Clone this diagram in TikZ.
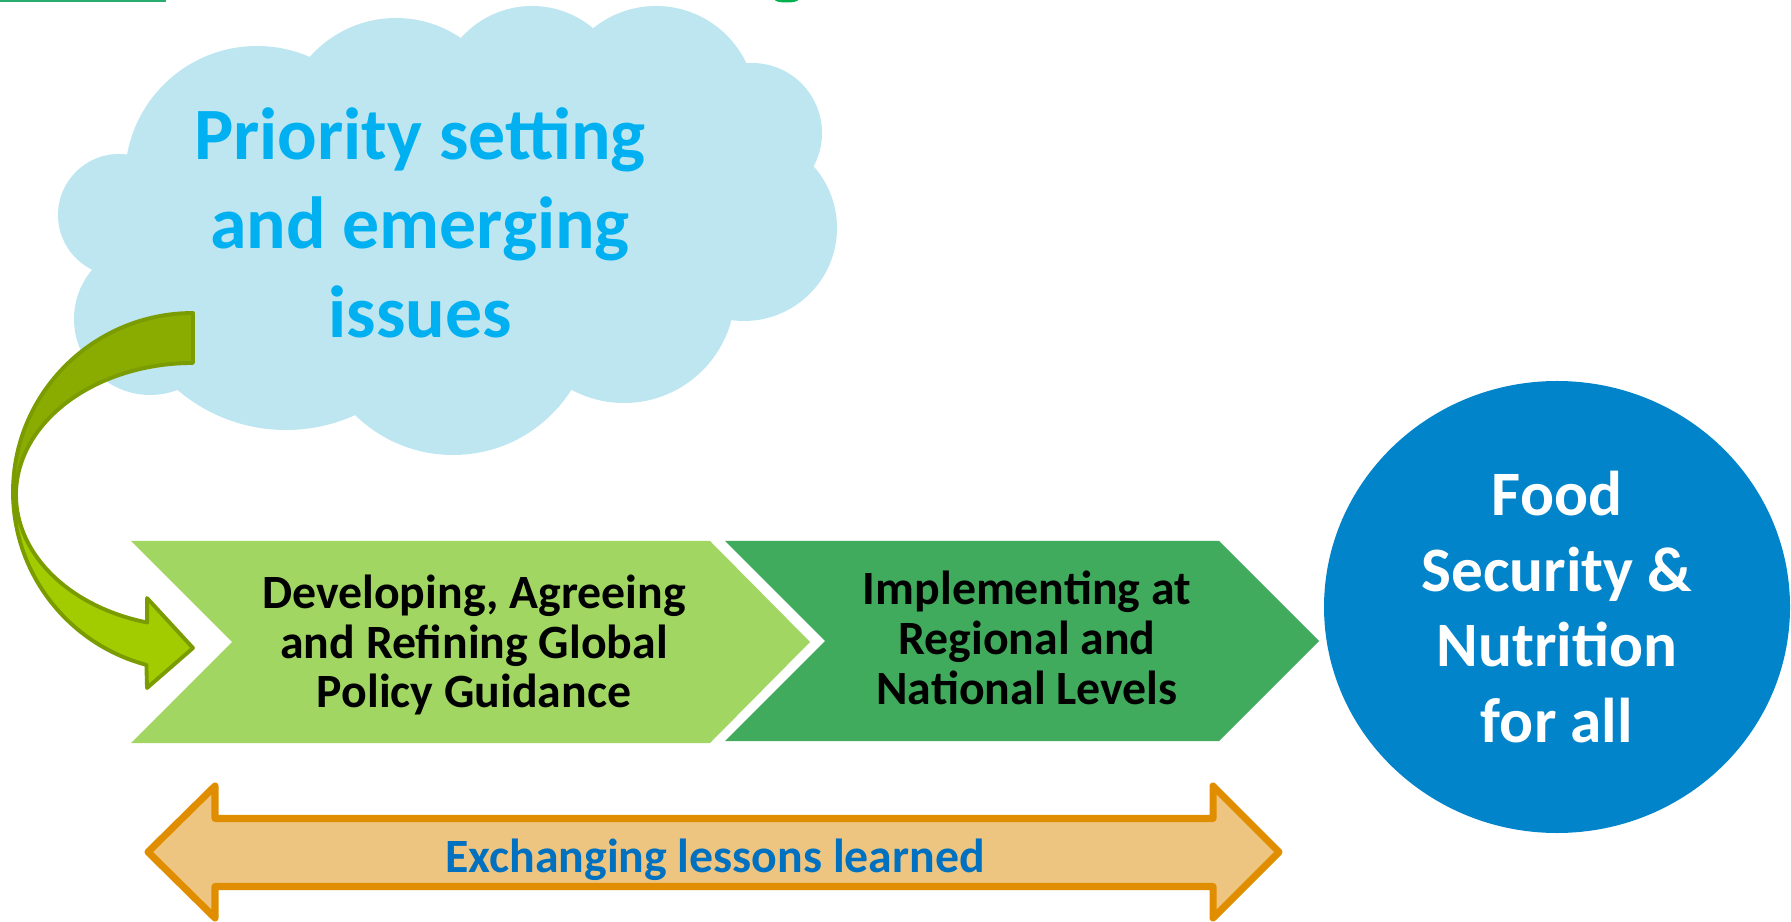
\documentclass[tikz,border=0pt]{standalone}
\usepackage{fontspec}
\setmainfont{Carlito}
\usepackage{tikz}
\usetikzlibrary{shapes.geometric}

\definecolor{cloudblue}{RGB}{189,230,241}
\definecolor{skyblue}{RGB}{0,176,240}
\definecolor{arrowdark}{RGB}{138,171,0}
\definecolor{arrowlight}{RGB}{162,204,0}
\definecolor{arrowline}{RGB}{122,156,0}
\definecolor{stepone}{RGB}{161,214,98}
\definecolor{steptwo}{RGB}{65,171,93}
\definecolor{goalblue}{RGB}{2,132,203}
\definecolor{swapfill}{RGB}{238,197,128}
\definecolor{swapline}{RGB}{224,142,0}
\definecolor{swaptext}{RGB}{0,112,192}
\definecolor{titlegreen}{RGB}{39,174,110}
\definecolor{titledot}{RGB}{0,176,80}

\begin{document}
\begin{tikzpicture}[line join=round,
  steptext/.style={align=center,inner sep=0pt,font=\fontsize{13.6}{14.2}\selectfont\bfseries},
  cloudtext/.style={align=center,inner sep=0pt,text=skyblue,font=\fontsize{21}{25.3}\selectfont\bfseries},
  goal/.style={ellipse,fill=goalblue,inner sep=0pt,minimum width=4.66cm,minimum height=4.52cm,
    align=center,text=white,font=\fontsize{18}{21.6}\selectfont\bfseries}]

  \useasboundingbox (0,0) rectangle (17.91,-9.22);

  \fill[titlegreen] (0,0) rectangle (1.66,-0.02);
  \fill[titledot] (7.75,0) arc[start angle=180,end angle=360,x radius=0.115,y radius=0.025];

  \begin{scope}[cloudblue]
  \fill (1.27,-1.55) -- (3.10,-0.57) -- (4.61,-0.38) -- (5.93,-0.28) -- (7.46,-0.63) -- (8.13,-1.66)
    -- (7.31,-3.20) -- (5.71,-3.90) -- (3.55,-4.15) -- (1.77,-3.90) -- (0.93,-2.70) -- cycle;
  \fill (2.57,-1.78) circle (1.32) (3.96,-1.33) circle (1.15) (5.32,-1.01) circle (0.95)
    (6.56,-1.06) circle (1.00) (7.52,-1.33) circle (0.70) (7.44,-2.28) circle (0.93)
    (6.24,-2.92) circle (1.11) (4.53,-3.15) circle (1.40) (2.86,-2.63) circle (1.67)
    (1.50,-3.19) circle (0.76) (1.19,-2.15) circle (0.61);
  \end{scope}
  \node[cloudtext] (prio) at (4.20,-2.23) {Priority setting\\and emerging\\issues};

  \draw[arrowline,line width=1.1pt,fill=arrowdark] (1.93,-3.13)
    arc[start angle=90,end angle=180,x radius=1.80,y radius=1.79] -- (0.16,-4.95)
    arc[start angle=180,end angle=90,x radius=1.77,y radius=1.32] -- cycle;
  \draw[arrowline,line width=1.1pt,fill=arrowlight] (0.13,-4.92)
    arc[start angle=180,end angle=255,x radius=1.80,y radius=1.79]
    -- (1.47,-6.88) -- (1.93,-6.48) -- (1.47,-5.98) -- (1.472,-6.225)
    arc[start angle=255,end angle=180,x radius=1.77,y radius=1.32] -- cycle;

  \fill[stepone] (1.31,-5.41) -- (7.10,-5.41) -- (8.10,-6.42) -- (7.10,-7.43) -- (1.31,-7.43) -- (2.32,-6.42) -- cycle;
  \fill[steptwo] (7.25,-5.41) -- (12.19,-5.41) -- (13.19,-6.41) -- (12.19,-7.41) -- (7.25,-7.41) -- (8.25,-6.41) -- cycle;
  \node[steptext] (develop) at (4.74,-6.45) {Developing, Agreeing\\and Refining Global\\Policy Guidance};
  \node[steptext] (implement) at (10.27,-6.38) {Implementing at\\Regional and\\National Levels};

  \draw[swapline,line width=2pt,fill=swapfill] (1.48,-8.52) -- (2.15,-7.86) -- (2.15,-8.185) -- (12.13,-8.185)
    -- (12.13,-7.86) -- (12.79,-8.52) -- (12.13,-9.18) -- (12.13,-8.865) -- (2.15,-8.865) -- (2.15,-9.18) -- cycle;
  \node[steptext,text=swaptext,anchor=base] (lessons) at (7.15,-8.72) {Exchanging lessons learned};

  \node[goal] (goal) at (15.57,-6.07) {Food\\Security \&\\Nutrition\\for all};
\end{tikzpicture}
\end{document}
